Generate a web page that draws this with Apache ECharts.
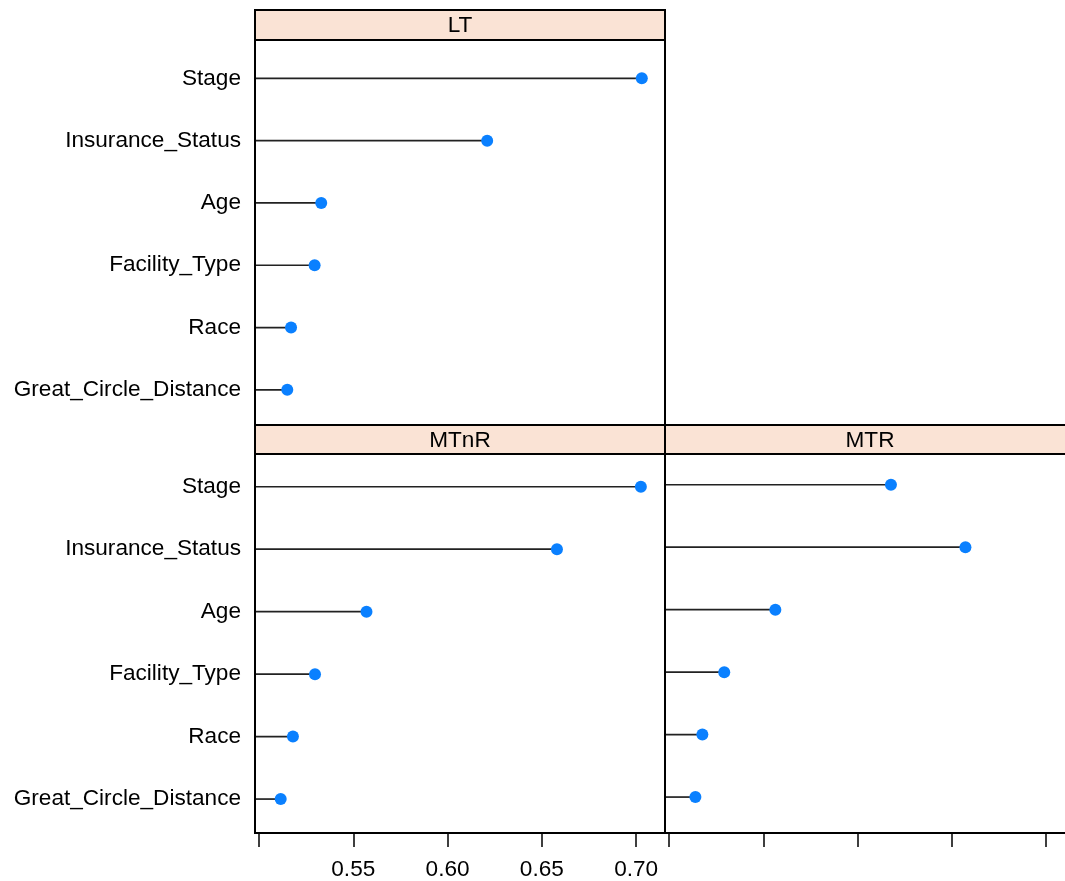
<!DOCTYPE html>
<html>
<head>
<meta charset="utf-8">
<script src="https://cdn.jsdelivr.net/npm/echarts@6/dist/echarts.min.js"></script>
<style>
  html, body { margin: 0; padding: 0; background: #fff; }
  #chart { width: 1065px; height: 881px; }
</style>
</head>
<body>
<div id="chart"></div>
<script>
// ---------- data ----------
var categories = ['Stage', 'Insurance_Status', 'Age', 'Facility_Type', 'Race', 'Great_Circle_Distance'];
var panelNames = ['LT', 'MTnR', 'MTR'];
var ltValues   = [0.703, 0.621, 0.533, 0.5295, 0.517, 0.515];
var mtnrValues = [0.7025, 0.658, 0.557, 0.5297, 0.518, 0.5115];
var mtrValues  = [0.6177, 0.6572, 0.5564, 0.5293, 0.5177, 0.514];
var tickValues  = [0.50, 0.55, 0.60, 0.65, 0.70];
var tickLabels  = [0.55, 0.60, 0.65, 0.70];

// ---------- layout ----------
var X_MIN = 0.49788, X_MAX = 0.7153;
var FONT = 'Liberation Sans, Arial, Helvetica, sans-serif';
var FS = 22.6;
var STRIP_FILL = '#fae3d5';
var DOT = '#0a80ff';
var STEM = '#222222';

var panels = [
  { name: panelNames[0], values: ltValues,   frame: [255, 40, 410, 385],  strip: [255, 10, 410, 30],  inner: [47.2, 373.8], yLabels: true,  xAxis: false },
  { name: panelNames[1], values: mtnrValues, frame: [255, 454, 410, 379], strip: [255, 425, 410, 29], inner: [455.5, 374.8], yLabels: true,  xAxis: true, xLabels: true },
  { name: panelNames[2], values: mtrValues,  frame: [665, 454, 410, 379], strip: [665, 425, 410, 29], inner: [453.5, 374.8], yLabels: false, xAxis: true, xLabels: false }
];

var grids = [], xAxes = [], yAxes = [], series = [], graphics = [];
var AXIS_Y = 833;

panels.forEach(function (p, i) {
  var innerBottom = p.inner[0] + p.inner[1];
  grids.push({ left: p.frame[0], width: p.frame[2], top: p.inner[0], height: p.inner[1],
               containLabel: false, outerBoundsMode: 'none' });
  xAxes.push({
    type: 'value', gridIndex: i, min: X_MIN, max: X_MAX,
    show: p.xAxis,
    position: 'bottom',
    offset: AXIS_Y - innerBottom,
    axisLine: { show: false },
    splitLine: { show: false },
    axisTick: { show: true, length: 14, inside: false, customValues: tickValues, lineStyle: { color: '#000', width: 1.5 } },
    axisLabel: {
      show: !!p.xLabels, customValues: tickLabels, margin: 25,
      color: '#000', fontSize: FS, fontFamily: FONT,
      formatter: function (v) { return Number(v).toFixed(2); }
    }
  });
  yAxes.push({
    type: 'category', gridIndex: i, data: categories, inverse: true,
    axisLine: { show: false }, axisTick: { show: false }, splitLine: { show: false },
    axisLabel: { show: p.yLabels, margin: 14, color: '#000', fontSize: FS, fontFamily: FONT }
  });
  var pts = p.values.map(function (v, k) { return [v, categories[k]]; });
  series.push({
    type: 'custom', xAxisIndex: i, yAxisIndex: i, data: pts, encode: { x: 0, y: 1 },
    z: 2, silent: true,
    renderItem: function (params, api) {
      var idx = api.value(1);
      var s = api.coord([X_MIN, idx]);
      var e = api.coord([api.value(0), idx]);
      return { type: 'line', shape: { x1: s[0], y1: s[1], x2: e[0], y2: e[1] },
               style: { stroke: STEM, lineWidth: 1.7 } };
    }
  });
  series.push({
    type: 'scatter', xAxisIndex: i, yAxisIndex: i, data: pts, z: 3,
    symbol: 'circle', symbolSize: 12, itemStyle: { color: DOT, opacity: 1 }, silent: true
  });
  // strip
  graphics.push({
    type: 'rect', z: 100,
    shape: { x: p.strip[0], y: p.strip[1], width: p.strip[2], height: p.strip[3] },
    style: { fill: STRIP_FILL, stroke: '#000', lineWidth: 2 }
  });
  graphics.push({
    type: 'text', z: 101,
    x: p.strip[0] + p.strip[2] / 2, y: p.strip[1] + p.strip[3] / 2 + 1,
    style: { text: p.name, fill: '#000', font: FS + 'px ' + FONT, textAlign: 'center', textVerticalAlign: 'middle' }
  });
  // panel frame
  graphics.push({
    type: 'rect', z: 100,
    shape: { x: p.frame[0], y: p.frame[1], width: p.frame[2], height: p.frame[3] },
    style: { fill: 'none', stroke: '#000', lineWidth: 2 }
  });
});

var chart = echarts.init(document.getElementById('chart'), null, { renderer: 'canvas' });
chart.setOption({
  backgroundColor: '#fff',
  animation: false,
  grid: grids,
  xAxis: xAxes,
  yAxis: yAxes,
  series: series,
  graphic: graphics
});
</script>
</body>
</html>
